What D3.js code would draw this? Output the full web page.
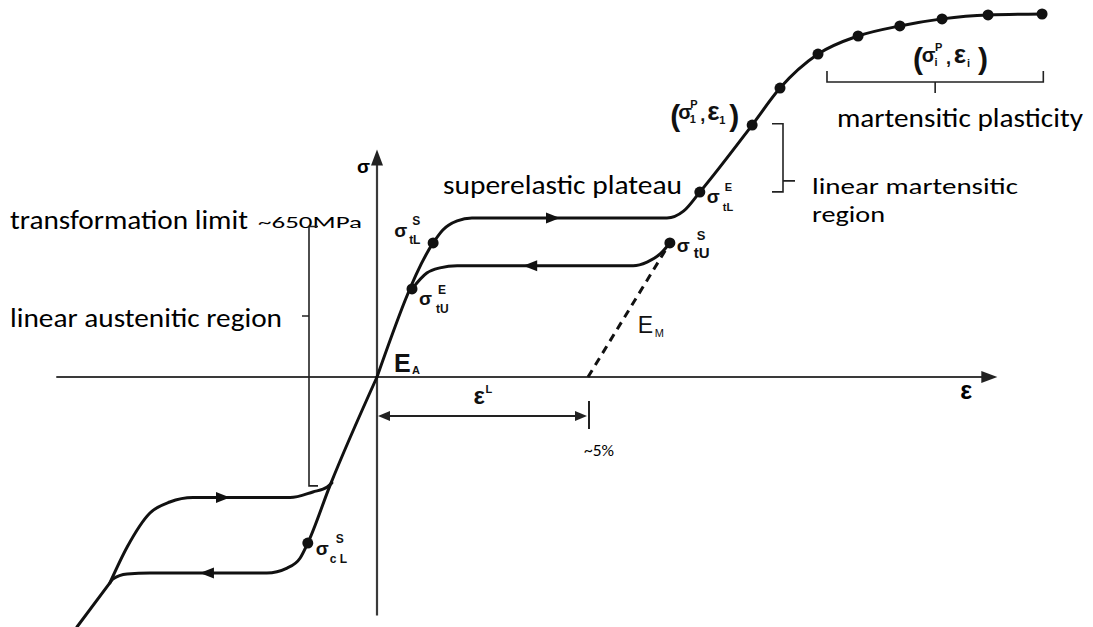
<!DOCTYPE html>
<html>
<head>
<meta charset="utf-8">
<script src="https://cdn.jsdelivr.net/npm/d3@7"></script>
<style>
  body { margin: 0; background: #fff; }
  svg { display: block; }
</style>
</head>
<body>
<svg id="chart" width="1093" height="627"></svg>
<script>
// Superelastic stress–strain cycle of a shape-memory alloy (strain in %, stress in MPa)

// tensile loading: austenite line, upper plateau, martensite line, martensitic plasticity
const tensionLoading = [
  [0, 0], [1.33, 548], [1.56, 601], [1.90, 638], [2.25, 650],
  [6.87, 650], [7.27, 679], [7.65, 756], [8.89, 1030], [9.55, 1181],
  [10.45, 1320], [11.40, 1394], [12.39, 1435], [13.39, 1464], [14.48, 1480], [15.76, 1484]
];
// tensile unloading: lower plateau back to the austenite line
const tensionUnloading = [
  [0.83, 360], [1.18, 425], [1.49, 446], [1.90, 455],
  [6.07, 455], [6.40, 470], [6.71, 503], [6.94, 548]
];
// compressive loading (from the martensite end back to the origin)
const compressionLoading = [
  [-7.11, -1022], [-6.33, -842], [-6.26, -826], [-5.92, -805], [-5.38, -801],
  [-2.61, -801], [-2.13, -781], [-1.82, -740], [-1.64, -679], [-1.11, -442], [0, 0]
];
// compressive unloading: upper plateau rejoining the austenite line
const compressionUnloading = [
  [-6.33, -842], [-5.92, -695], [-5.38, -556], [-4.91, -511], [-4.36, -493],
  [-2.06, -493], [-1.52, -470], [-1.18, -450], [-1.07, -433]
];
// elastic unloading of martensite (E_M), dashed
const martensiteElastic = [[5.0, 0], [6.94, 548]];

// transformation start / end points
const transformationPoints = [
  { key: "tLS", strain: 1.33, stress: 548 },
  { key: "tUE", strain: 0.83, stress: 360 },
  { key: "tLE", strain: 7.65, stress: 756 },
  { key: "tUS", strain: 6.94, stress: 548 },
  { key: "cLS", strain: -1.64, stress: -679 }
];
// martensitic plasticity points (σ_i^P, ε_i)
const plasticityStrain = [8.89, 9.55, 10.45, 11.40, 12.39, 13.39, 14.48, 15.76];
const plasticityStress = [1030, 1181, 1320, 1394, 1435, 1464, 1480, 1484];

// direction arrows on the plateaus
const plateauArrows = [
  { strain: 4.17, stress: 650, dir: 1 },
  { strain: 3.63, stress: 455, dir: -1 },
  { strain: -3.65, stress: -493, dir: 1 },
  { strain: -4.03, stress: -801, dir: -1 }
];

const transformationLimit = 650;   // MPa
const transformationStrain = 5;    // %
const strainAxisExtent = [-7.6, 14.7];
const stressAxisExtent = [-975, 930];
const austeniteBracket = [615, -445];    // stress span of the linear austenitic region
const martensiteBracket = [1035, 757];   // stress span of the linear martensitic region
const plasticityBracket = [10.45, 15.6]; // strain span of martensitic plasticity

const svg = d3.select("#chart");
const x = d3.scaleLinear().domain([0, 5]).range([377, 588]);
const y = d3.scaleLinear().domain([0, 650]).range([377, 218]);

const ink = "#111";
const textFont = "Carlito, Calibri, Lato, 'Open Sans', sans-serif";
const symFont = "'Liberation Sans', Arial, 'DejaVu Sans', sans-serif";

// ---- axes
const axisColor = "#3a3a3a";
svg.append("line")
  .attr("x1", x(strainAxisExtent[0])).attr("x2", x(strainAxisExtent[1]) - 10)
  .attr("y1", y(0)).attr("y2", y(0))
  .attr("stroke", axisColor).attr("stroke-width", 2.2);
svg.append("path")
  .attr("d", `M${x(strainAxisExtent[1])},${y(0)} l-16,-6 l0,12 z`)
  .attr("fill", "#222");
svg.append("line")
  .attr("x1", x(0)).attr("x2", x(0))
  .attr("y1", y(stressAxisExtent[0])).attr("y2", y(stressAxisExtent[1]) + 10)
  .attr("stroke", axisColor).attr("stroke-width", 2.2);
svg.append("path")
  .attr("d", `M${x(0)},${y(stressAxisExtent[1])} l-6,16 l12,0 z`)
  .attr("fill", "#222");

// ---- curves
const line = d3.line()
  .x(d => x(d[0])).y(d => y(d[1]))
  .curve(d3.curveMonotoneX);

[tensionLoading, tensionUnloading, compressionLoading, compressionUnloading].forEach(data => {
  svg.append("path")
    .attr("d", line(data))
    .attr("fill", "none")
    .attr("stroke", ink)
    .attr("stroke-width", 3)
    .attr("stroke-linejoin", "round")
    .attr("stroke-linecap", "round");
});

svg.append("path")
  .attr("d", d3.line().x(d => x(d[0])).y(d => y(d[1]))(martensiteElastic))
  .attr("fill", "none")
  .attr("stroke", ink)
  .attr("stroke-width", 3)
  .attr("stroke-dasharray", "8,6");

// plateau arrows
svg.selectAll(".plateau-arrow")
  .data(plateauArrows)
  .join("path")
  .attr("class", "plateau-arrow")
  .attr("d", d => {
    const cx = x(d.strain), cy = y(d.stress);
    return `M${cx + 7 * d.dir},${cy} L${cx - 7 * d.dir},${cy - 5.5} L${cx - 7 * d.dir},${cy + 5.5} Z`;
  })
  .attr("fill", ink);

// dots
svg.selectAll(".tpoint")
  .data(transformationPoints)
  .join("circle")
  .attr("class", "tpoint")
  .attr("cx", d => x(d.strain)).attr("cy", d => y(d.stress))
  .attr("r", 5.5).attr("fill", ink);

svg.selectAll(".ppoint")
  .data(plasticityStrain.map((s, i) => [s, plasticityStress[i]]))
  .join("circle")
  .attr("class", "ppoint")
  .attr("cx", d => x(d[0])).attr("cy", d => y(d[1]))
  .attr("r", 5.5).attr("fill", ink);

// ---- symbol labels: one text element, pieces placed as absolute tspans
// parts: [dx, dy, size, text] relative to (px, py)
function composite(px, py, parts, weight = "bold") {
  const t = svg.append("text")
    .attr("font-family", symFont).attr("font-weight", weight).attr("fill", ink);
  parts.forEach(([dx, dy, size, txt]) => {
    t.append("tspan").attr("x", px + dx).attr("y", py + dy).attr("font-size", size).text(txt);
  });
  return t;
}
function sym(px, py, main, sup, sub, o = {}) {
  const size = o.size || 19, small = o.small || 12;
  const parts = [[0, 0, size, main]];
  if (sup) parts.push([o.supDx || 0, o.supDy || -11, o.supSize || small, sup]);
  if (sub) parts.push([o.subDx || 0, o.subDy || 6, o.subSize || small, sub]);
  return composite(px, py, parts, o.weight || "bold");
}

const pt = k => transformationPoints.find(d => d.key === k);
const P = k => [x(pt(k).strain), y(pt(k).stress)];

let [ax, ay] = P("tLS");
sym(ax - 39, ay - 6, "σ", "S", "tL", { supDx: 18, supDy: -12, subDx: 15, subDy: 7 });
[ax, ay] = P("tUE");
sym(ax + 7, ay + 16, "σ", "E", "tU", { supDx: 19, supDy: -11, subDx: 17, subDy: 8 });
[ax, ay] = P("tLE");
sym(ax + 7, ay + 11, "σ", "E", "tL", { supDx: 18, supDy: -12, subDx: 16, subDy: 8, small: 11 });
[ax, ay] = P("tUS");
sym(ax + 7, ay + 9, "σ", "S", "tU", { supDx: 20, supDy: -12, subDx: 17, subDy: 6, subSize: 15, supSize: 13 });
[ax, ay] = P("cLS");
sym(ax + 8, ay + 12, "σ", "S", "c L", { supDx: 20, supDy: -12, subDx: 14, subDy: 8 });

// moduli
sym(x(0) + 17, y(0) - 5, "E", null, "A", { size: 25, subDx: 18, subDy: 2, subSize: 11 });
sym(x(6.94) - 32, y(0) - 44, "E", null, "M", { size: 23, weight: "normal", subDx: 17, subDy: 4, subSize: 11 });

// axis labels
svg.append("text").attr("x", x(0) - 20).attr("y", y(stressAxisExtent[1]) + 23)
  .attr("font-family", symFont).attr("font-weight", "bold").attr("font-size", 19).text("σ");
svg.append("text").attr("x", x(strainAxisExtent[1]) - 37).attr("y", y(0) + 22)
  .attr("font-family", symFont).attr("font-weight", "bold").attr("font-size", 25).text("ε");

// (σ^P, ε) tuple labels
function tuple(x0, b, idx, sc) {
  composite(x0, b, [
    [0, 7, 30, "("],
    [8 * sc, 0, 20, "σ"],
    [20 * sc, -11, 11, "P"],
    [19.5 * sc, 4, 11, idx],
    [30 * sc, 2, 18, ","],
    [37 * sc, 1, 26, "ε"],
    [49 * sc, 5, 11, idx],
    [59 * sc, 7, 30, ")"]
  ]);
}
tuple(x(plasticityStrain[0]) - 82, y(plasticityStress[0]) - 6, "1", 1);
tuple(913, 62, "i", 1.1);

// ---- transformation strain dimension ε^L
const dimY = y(0) + 39;
svg.append("line").attr("x1", x(0) + 4).attr("x2", x(transformationStrain) - 4)
  .attr("y1", dimY).attr("y2", dimY).attr("stroke", "#222").attr("stroke-width", 2);
svg.append("path").attr("d", `M${x(0) + 1},${dimY} l12,-5 l0,10 z`).attr("fill", "#222");
svg.append("path").attr("d", `M${x(transformationStrain) - 1},${dimY} l-12,-5 l0,10 z`).attr("fill", "#222");
svg.append("line").attr("x1", x(transformationStrain) + 1).attr("x2", x(transformationStrain) + 1)
  .attr("y1", dimY - 15).attr("y2", dimY + 13).attr("stroke", "#222").attr("stroke-width", 2);
sym(x(transformationStrain / 2) - 9, dimY - 12, "ε", "L", null, { size: 24, supDx: 12, supDy: -11, supSize: 11 });

// ---- descriptive annotations
function note(px, py, txt, len, size) {
  svg.append("text").attr("x", px).attr("y", py)
    .attr("font-family", textFont).attr("font-size", size || 26).attr("fill", "#000")
    .attr("textLength", len).attr("lengthAdjust", "spacingAndGlyphs")
    .text(txt);
}
note(10, 229, "transformation limit", 238);
note(258, 228, "~" + transformationLimit + "MPa", 104, 17);
note(10, 327, "linear austenitic region", 272);
note(443, 194, "superelastic plateau", 239);
note(812, 194, "linear martensitic", 206, 23);
note(812, 222, "region", 73, 23);
note(837, 127, "martensitic plasticity", 246);
note(x(transformationStrain) - 4, dimY + 40, "~" + transformationStrain + "%", 30, 17);

// ---- brackets
const br = svg.append("g").attr("fill", "none").attr("stroke", "#222").attr("stroke-width", 1.6);
const bx = 309;
br.append("path").attr("d",
  `M${bx + 9},${y(austeniteBracket[0])} L${bx},${y(austeniteBracket[0])} L${bx},${y(austeniteBracket[1])} L${bx + 9},${y(austeniteBracket[1])} M${bx},${y(0) - 61} L${bx - 7},${y(0) - 61}`);
const mx = 783;
br.append("path").attr("d",
  `M${mx - 11},${y(martensiteBracket[0])} L${mx},${y(martensiteBracket[0])} L${mx},${y(martensiteBracket[1])} L${mx - 11},${y(martensiteBracket[1])} M${mx},${y(martensiteBracket[1]) - 11} L${mx + 12},${y(martensiteBracket[1]) - 11}`);
const py0 = 82, pxl = x(plasticityBracket[0]) + 9, pxr = x(plasticityBracket[1]) + 8;
br.append("path").attr("d",
  `M${pxl},${py0 - 11} L${pxl},${py0} L${pxr},${py0} L${pxr},${py0 - 11} M${(pxl + pxr) / 2},${py0} L${(pxl + pxr) / 2},${py0 + 11}`);
</script>
</body>
</html>
